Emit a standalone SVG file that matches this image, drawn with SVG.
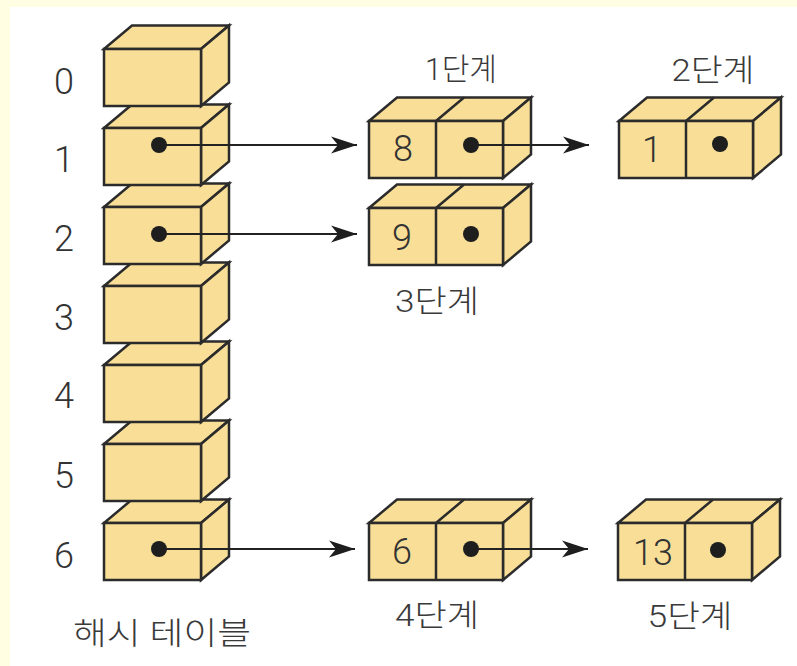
<svg xmlns="http://www.w3.org/2000/svg" width="797" height="666" viewBox="0 0 797 666">
<defs>
<style>
.bx{fill:#F8DE96;stroke:#2B2B2B;stroke-width:2.5;stroke-linejoin:miter}
.dv{fill:none;stroke:#2B2B2B;stroke-width:2.5}
.dot{fill:#1E1E1E}
.ln{fill:none;stroke:#222;stroke-width:2}
.num{font-family:Roboto,"Liberation Sans",sans-serif;font-weight:300;font-size:36px;fill:#333;text-anchor:middle}
.lbl{font-family:Roboto,"Noto Sans CJK KR",sans-serif;font-weight:300;font-size:31px;fill:#3a3a3a;text-anchor:middle}
</style>
<marker id="ah" markerUnits="userSpaceOnUse" markerWidth="28" markerHeight="20" viewBox="-26 -10 28 20" refX="0" refY="0" orient="auto">
<path d="M0,0 L-26,-8.5 L-19,0 L-26,8.5 Z" fill="#1E1E1E"/>
</marker>
<g id="hb">
<path class="bx" d="M0,0 L28,-23.5 L125,-23.5 L97,0 Z"/>
<path class="bx" d="M97,0 L125,-23.5 L125,33.5 L97,57 Z"/>
<rect class="bx" x="0" y="0" width="97" height="57"/>
</g>
<g id="cb">
<path class="bx" d="M0,0 L28,-23.5 L162,-23.5 L134,0 Z"/>
<path class="bx" d="M134,0 L162,-23.5 L162,33.5 L134,57 Z"/>
<rect class="bx" x="0" y="0" width="134" height="57"/>
<path class="dv" d="M67,0 L67,57 M67,0 L95,-23.5"/>
</g>
</defs>
<rect x="0" y="0" width="797" height="666" fill="#FFFDE2"/>
<rect x="10" y="7" width="787" height="659" fill="#FFFFFF"/>

<g id="hash-table">
<g id="slot-6"><use href="#hb" x="104" y="523"/><text class="num" x="64" y="568">6</text></g>
<g id="slot-5"><use href="#hb" x="104" y="444"/><text class="num" x="64" y="488">5</text></g>
<g id="slot-4"><use href="#hb" x="104" y="365"/><text class="num" x="64" y="408">4</text></g>
<g id="slot-3"><use href="#hb" x="104" y="286"/><text class="num" x="64" y="330">3</text></g>
<g id="slot-2"><use href="#hb" x="104" y="207"/><text class="num" x="64" y="251">2</text></g>
<g id="slot-1"><use href="#hb" x="104" y="128"/><text class="num" x="64" y="172">1</text></g>
<g id="slot-0"><use href="#hb" x="104" y="49"/><text class="num" x="64" y="94">0</text></g>
<text class="lbl" x="162" y="644" textLength="178" lengthAdjust="spacingAndGlyphs">해시 테이블</text>
</g>

<g id="stage1"><use href="#cb" x="369" y="121"/><text class="num" x="403" y="161">8</text><text class="lbl" x="461" y="80" textLength="72" lengthAdjust="spacingAndGlyphs">1단계</text></g>
<g id="stage2"><use href="#cb" x="619" y="121"/><text class="num" x="652" y="162">1</text><text class="lbl" x="713" y="81" textLength="83" lengthAdjust="spacingAndGlyphs">2단계</text></g>
<g id="stage3"><use href="#cb" x="369" y="208"/><text class="num" x="402" y="250">9</text><text class="lbl" x="437" y="312" textLength="84" lengthAdjust="spacingAndGlyphs">3단계</text></g>
<g id="stage4"><use href="#cb" x="369" y="523"/><text class="num" x="402" y="564">6</text><text class="lbl" x="437" y="626" textLength="84" lengthAdjust="spacingAndGlyphs">4단계</text></g>
<g id="stage5"><use href="#cb" x="618" y="523"/><text class="num" x="653" y="565">13</text><text class="lbl" x="690" y="627" textLength="85" lengthAdjust="spacingAndGlyphs">5단계</text></g>

<g id="connectors">
<line class="ln" x1="159" y1="145" x2="357" y2="145" marker-end="url(#ah)"/>
<line class="ln" x1="159" y1="234" x2="357" y2="234" marker-end="url(#ah)"/>
<line class="ln" x1="159" y1="549" x2="355" y2="549" marker-end="url(#ah)"/>
<line class="ln" x1="471" y1="145" x2="589" y2="145" marker-end="url(#ah)"/>
<line class="ln" x1="471" y1="549" x2="588" y2="549" marker-end="url(#ah)"/>
<circle class="dot" cx="159" cy="145" r="8"/>
<circle class="dot" cx="159" cy="234" r="8"/>
<circle class="dot" cx="159" cy="549" r="8"/>
<circle class="dot" cx="471" cy="145" r="8"/>
<circle class="dot" cx="720" cy="144" r="8"/>
<circle class="dot" cx="471" cy="234" r="8"/>
<circle class="dot" cx="471" cy="549" r="8"/>
<circle class="dot" cx="718" cy="550" r="8"/>
</g>
</svg>
